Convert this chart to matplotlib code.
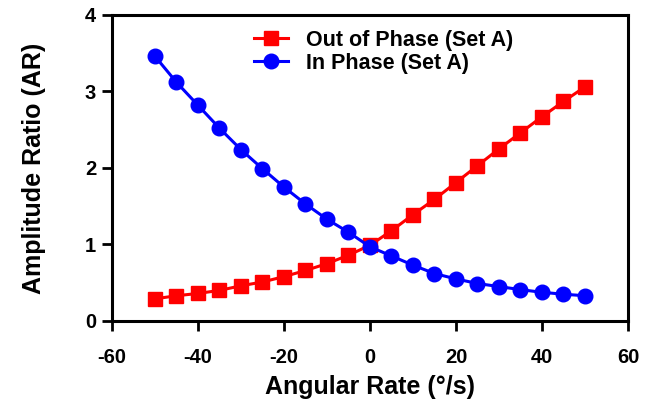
import matplotlib
matplotlib.use('Agg')
import matplotlib.pyplot as plt

plt.rcParams['font.family'] = ['Liberation Sans', 'DejaVu Sans']
plt.rcParams['font.weight'] = 'bold'
plt.rcParams['axes.unicode_minus'] = False

rate = [-50, -45, -40, -35, -30, -25, -20, -15, -10, -5, 0,
        5, 10, 15, 20, 25, 30, 35, 40, 45, 50]
out_of_phase = [0.29, 0.33, 0.36, 0.40, 0.46, 0.51, 0.58, 0.66, 0.75, 0.86, 0.99,
                1.18, 1.39, 1.59, 1.81, 2.03, 2.25, 2.46, 2.67, 2.87, 3.06]
in_phase = [3.46, 3.12, 2.82, 2.52, 2.24, 1.99, 1.75, 1.53, 1.33, 1.16, 0.97,
            0.85, 0.73, 0.62, 0.55, 0.49, 0.45, 0.41, 0.375, 0.35, 0.33]
xticks = [-60, -40, -20, 0, 20, 40, 60]
yticks = [0, 1, 2, 3, 4]

fig = plt.figure(figsize=(6.56, 4.03), dpi=100)
ax = fig.add_axes([0.1707, 0.2035, 0.7866, 0.7593])

ax.plot(rate, out_of_phase, color='#ff0000', marker='s', markersize=10,
        linewidth=2.2, label='Out of Phase (Set A)')
ax.plot(rate, in_phase, color='#0000ff', marker='o', markersize=10.5,
        linewidth=2.2, label='In Phase (Set A)')

ax.set_xlim(-60, 60)
ax.set_ylim(0, 4)
ax.set_xticks(xticks)
ax.set_yticks(yticks)
for s in ax.spines.values():
    s.set_linewidth(2.2)
ax.tick_params(direction='out', length=7.5, width=2, labelsize=14.5)
ax.tick_params(axis='x', pad=12)
ax.tick_params(axis='y', pad=4)
for lab in ax.get_xticklabels() + ax.get_yticklabels():
    lab.set_fontweight('bold')

ax.set_xlabel('Angular Rate (°/s)', fontsize=18, fontweight='bold', labelpad=6)
ax.set_ylabel('Amplitude Ratio (AR)', fontsize=18, fontweight='bold', labelpad=28)

leg = ax.legend(loc='upper left', bbox_to_anchor=(0.275, 0.952), frameon=False,
                prop={'size': 15.5, 'weight': 'bold'}, handlelength=1.6,
                borderpad=0, labelspacing=0.1, handletextpad=0.8, borderaxespad=0)

fig.savefig('out.png', dpi=100)
